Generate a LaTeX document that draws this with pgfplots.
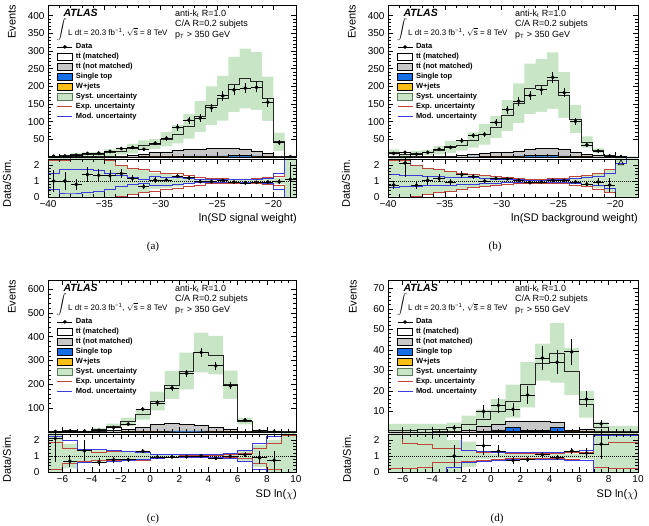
\documentclass[border=0pt]{standalone}
\usepackage{fontspec}
\setmainfont{Liberation Sans}
\newfontfamily\capfont{Liberation Serif}
\usepackage{pgfplots}
\usepackage{pgfplotstable}
\pgfplotsset{compat=1.18}

\definecolor{sysgreen}{RGB}{200,229,198}
\definecolor{sysedge}{RGB}{90,120,90}
\definecolor{nmgray}{RGB}{200,200,200}
\definecolor{stblue}{RGB}{20,110,230}
\definecolor{wjorange}{RGB}{250,190,20}
\definecolor{expred}{RGB}{190,70,60}
\definecolor{modblue}{RGB}{60,60,220}

% stacked templates: x = left bin edge; wj, st, nm = cumulative W+jets, +single top, +ttbar (not matched);
% mc = total prediction; su/sd = syst. band; eu/ed, mu/md, gu/gd = ratio bands (exp., mod., syst.)
\pgfplotstableread{
x    wj   st   nm    mc     su     sd     eu    ed    mu    md    gu    gd
-40  0    0    1     2      3.6    0.4    2.3   -0.3  1.5   0.5   2.6   -0.6
-39  0    0    1     3      5.4    0.6    2.3   -0.3  1.75  0.25  2.6   -0.6
-38  0    0    1     6.3    11.3   1.3    2.6   -0.6  1.75  0.25  2.6   -0.6
-37  0    0    1.5   7.1    12.8   1.4    2.6   -0.6  1.7   0.3   2.6   -0.6
-36  0    0    2     8.1    14.6   1.6    2.6   -0.6  1.65  0.35  2.6   -0.6
-35  0    0.2  2.2   11.9   21.4   2.4    2.3   -0.3  1.5   0.5   2.3   -0.3
-34  0    0.3  3.3   16.3   26.1   6.5    1.97  0.03  1.35  0.65  1.97  0.03
-33  0    0.5  4.5   23.3   37.3   9.3    1.82  0.18  1.2   0.8   1.82  0.18
-32  0.2  1.0  9.0   33.8   47.3   20.3   1.72  0.28  1.12  0.88  1.72  0.28
-31  0.3  1.3  13.3  36.8   51.5   22.1   1.62  0.38  1.3   0.7   1.5   0.5
-30  0.3  1.8  14.8  50     70     30     1.5   0.5   1.25  0.75  1.45  0.55
-29  0.5  2.5  19.5  64.6   90.4   38.8   1.45  0.55  1.2   0.8   1.35  0.65
-28  0.5  3.0  21.0  86.7   121.4  52     1.35  0.65  1.15  0.85  1.2   0.8
-27  0.5  3.5  21.5  114.6  158.1  71.1   1.25  0.75  1.1   0.9   1.1   0.9
-26  0.5  3.5  23.5  144.8  199.8  89.8   1.18  0.82  1.1   0.9   1.08  0.92
-25  0.5  3.5  24.5  166.3  229.5  103.1  1.14  0.86  1.1   0.9   1.08  0.92
-24  0.5  4.0  24.0  205    282.9  127.1  1.12  0.88  1.1   0.9   1.08  0.92
-23  0.5  4.5  21.5  222    306.4  137.6  1.12  0.88  1.08  0.92  1.08  0.92
-22  0.3  3.3  16.3  215    296.7  133.3  1.14  0.86  1.08  0.92  1.1   0.9
-21  0.3  2.3  10.3  165    227.7  102.3  1.2   0.8   1.15  0.85  1.15  0.85
-20  0.1  0.6  2.6   43     68.8   17.2   1.3   0.7   1.5   0.5   1.2   0.8
-19  0    0    0.1   0.9    2.7    0      2.6   -0.6  2.6   -0.6  2.6   -0.6
-18  0    0    0.1   0.9    2.7    0      2.6   -0.6  2.6   -0.6  2.6   -0.6
}\hA
\pgfplotstableread{
x      y    ey    r     re
-39.5  2    1.4   1.0   0.7
-38.5  3    1.7   1.0   0.57
-37.5  5    2.2   0.79  0.35
-36.5  10   3.2   1.41  0.45
-35.5  11   3.3   1.36  0.41
-34.5  16   4     1.34  0.34
-33.5  24   4.9   1.47  0.3
-32.5  27   5.2   1.16  0.22
-31.5  22   4.7   0.65  0.14
-30.5  39   6.2   1.06  0.17
-29.5  53   7.3   1.06  0.15
-28.5  84   9.2   1.3   0.14
-27.5  104  10.2  1.2   0.12
-26.5  110  10.5  0.96  0.09
-25.5  139  11.8  0.96  0.08
-24.5  173  13.2  1.04  0.08
-23.5  190  13.8  0.93  0.07
-22.5  195  14    0.88  0.06
-21.5  197  14    0.92  0.065
-20.5  155  12.4  0.94  0.075
-19.5  41   6.4   0.95  0.15
-18.5  1    1     1.11  1.11
}\pA

\pgfplotstableread{
x    wj   st   nm    mc     su     sd     eu    ed    mu    md    gu    gd
-40  0    0    1     13.3   21.3   5.3    2.3   -0.3  1.4   0.6   2.6   -0.6
-39  0    0    1     6.1    9.8    2.4    2.3   -0.3  1.35  0.65  2.6   -0.6
-38  0    0    1     11     17.6   4.4    1.97  0.03  1.35  0.65  1.97  0.03
-37  0    0    2     12.5   20     5      1.82  0.18  1.3   0.7   1.82  0.18
-36  0    0    2     19     30.4   7.6    1.72  0.28  1.28  0.72  1.72  0.28
-35  0    0    3     28.7   45.9   11.5   1.62  0.38  1.25  0.75  1.62  0.38
-34  0    0.3  5.3   32.6   47.3   17.9   1.5   0.5   1.22  0.78  1.5   0.5
-33  0.2  0.7  8.7   48     69.6   26.4   1.42  0.58  1.2   0.8   1.42  0.58
-32  0.3  1.3  11.3  64     92.8   35.2   1.35  0.65  1.15  0.85  1.35  0.65
-31  0.3  1.8  12.8  84.5   115.8  53.2   1.27  0.73  1.12  0.88  1.27  0.73
-30  0.5  2.5  14.5  117.5  161    74     1.2   0.8   1.1   0.9   1.15  0.85
-29  0.5  3.5  17.5  152    208.2  95.8   1.14  0.86  1.08  0.92  1.1   0.9
-28  0.5  4.5  22.5  193    264.4  121.6  1.12  0.88  1.06  0.94  1.08  0.92
-27  0.5  5.0  25.0  202    276.7  127.3  1.12  0.88  1.06  0.94  1.08  0.92
-26  0.5  5.0  25.0  216    295.9  136.1  1.14  0.86  1.08  0.92  1.08  0.92
-25  0.5  3.5  21.5  175    239.8  110.3  1.16  0.84  1.1   0.9   1.1   0.9
-24  0.3  2.3  14.3  107.4  147.1  67.7   1.27  0.73  1.15  0.85  1.2   0.8
-23  0.2  1.2  8.2   42.5   58.2   26.8   1.35  0.65  1.2   0.8   1.3   0.7
-22  0    0.5  4.5   18     24.7   11.3   1.5   0.5   1.3   0.7   1.45  0.55
-21  0    0.1  1.1   4      6.4    1.6    1.72  0.28  1.45  0.55  1.72  0.28
-20  0    0    0.1   0.3    0.9    0      2.1   -0.1  2.1   -0.1  2.6   -0.6
-19  0    0    0     0.1    0.3    0      2.6   -0.6  2.6   -0.6  2.6   -0.6
-18  0    0    0     0.1    0.3    0      2.6   -0.6  2.6   -0.6  2.6   -0.6
}\hB
\pgfplotstableread{
x      y    ey    r     re
-39.5  10   3.2   0.75  0.24
-38.5  13   3.6   2.13  0.85
-37.5  8    2.8   0.73  0.25
-36.5  13   3.6   1.04  0.29
-35.5  22   4.7   1.16  0.25
-34.5  27   5.2   0.94  0.18
-33.5  46   6.8   1.41  0.21
-32.5  61   7.8   1.27  0.16
-31.5  64   8     1.0   0.125
-30.5  98   9.9   1.16  0.12
-29.5  134  11.6  1.14  0.1
-28.5  158  12.6  1.04  0.083
-27.5  174  13.2  0.9   0.068
-26.5  190  13.8  0.94  0.068
-25.5  225  15    1.04  0.069
-24.5  182  13.5  1.04  0.077
-23.5  101  10    0.94  0.093
-22.5  34   5.8   0.8   0.14
-21.5  17   4.1   0.94  0.23
-20.5  3    1.7   0.75  0.43
-19.5  1    1     nan   0
}\pB

\pgfplotstableread{
x    wj   st   nm    mc     su     sd     eu    ed    mu    md     gu    gd
-7   0    0    0.3   0.95   1.5    0.4    1.84  0.16  2.24  -0.24  2.6   -0.6
-6   0    0    1     4.5    7.2    1.8    1.46  0.54  2.0   0.0    1.78  0.22
-5   0    0    1     3      4.8    1.2    1.36  0.64  1.4   0.6    1.4   0.6
-4   0    0.2  3.2   11.3   15.8   6.8    1.25  0.75  1.4   0.6    1.35  0.65
-3   0.2  0.7  7.7   24.7   34.6   14.8   1.3   0.7   1.35  0.65   1.3   0.7
-2   0.3  1.3  11.3  43     60.2   25.8   1.3   0.7   1.3   0.7    1.3   0.7
-1   0.5  2.5  20.5  74     96.2   51.8   1.25  0.75  1.2   0.8    1.22  0.78
0    0.8  3.8  31.8  130    169    91     1.12  0.88  1.12  0.88   1.1   0.9
1    1    5    35    197    256    138    1.08  0.92  1.1   0.9    1.07  0.93
2    1    5    33    256    332.8  179.2  1.06  0.94  1.08  0.92   1.06  0.94
3    1    5    27    334    417.5  250.5  1.06  0.94  1.08  0.92   1.06  0.94
4    0.8  3.8  18.8  323    403.8  242.3  1.06  0.94  1.1   0.9    1.07  0.93
5    0.5  2.5  10.5  198    257.4  138.6  1.1   0.9   1.15  0.85   1.1   0.9
6    0.2  0.7  3.7   46     59.8   32.2   1.15  0.85  1.36  0.64   1.3   0.7
7    0    0.1  1.1   5.6    8.4    2.8    1.46  0.54  1.82  0.18   1.7   0.3
8    0    0    0.3   2.7    5.4    0      1.82  0.18  2.2   -0.2   2.0   0.0
9    0    0    0     0.6    1.2    0      2.3   -0.3  2.6   -0.6   2.6   -0.6
10   0    0    0     0.6    1.2    0      2.3   -0.3  2.6   -0.6   2.6   -0.6
}\hC
\pgfplotstableread{
x     y    ey    r     re
-6.5  2    1.4   2.1   1.47
-5.5  3    1.7   0.67  0.38
-4.5  4    2     1.33  0.67
-3.5  7    2.6   0.62  0.23
-2.5  19   4.4   0.77  0.18
-1.5  33   5.7   0.77  0.13
-0.5  96   9.8   1.3   0.13
0.5   122  11    0.94  0.085
1.5   185  13.6  0.94  0.069
2.5   246  15.7  0.96  0.061
3.5   334  18.3  1.0   0.055
4.5   278  16.7  0.86  0.052
5.5   194  13.9  0.98  0.07
6.5   50   7.1   1.09  0.15
7.5   5    2.2   0.89  0.4
8.5   2    1.4   0.74  0.6
}\pC

\pgfplotstableread{
x    wj   st   nm    mc     su     sd     eu    ed    mu    md     gu    gd
-7   0    0    0     0.8    4      0      2.6   0.2   2.6   -0.6   2.6   -0.6
-6   0    0    0     0.8    4      0      1.8   0.2   2.6   -0.6   2.6   -0.6
-5   0    0    0     1.0    4      0      1.7   0.3   2.6   -0.6   2.6   -0.6
-4   0    0    0.3   1.2    4      0      1.45  0.6   2.35  0.0    2.6   -0.6
-3   0    0    0.6   2.0    4.5    0      1.45  0.6   2.35  0.3    2.0   0.0
-2   0    0    1     3.5    8      0      1.36  0.64  1.36  0.6    1.9   0.3
-1   0.5  0.5  3     6.1    11     2      1.25  0.75  1.3   0.65   1.2   0.8
0    0.5  1    4     10     16     4      1.22  0.78  1.25  0.75   1.15  0.85
1    0.3  2.3  5.3   15     23     7      1.15  0.85  1.25  0.8    1.12  0.88
2    0.3  0.8  5.3   23     34     12     1.15  0.85  1.2   0.8    1.12  0.88
3    0.3  0.8  5.3   33.3   43     25     1.15  0.85  1.25  0.8    1.12  0.88
4    0.3  2.3  4.8   38     53     24     1.15  0.85  1.25  0.8    1.12  0.88
5    0    0.2  0.7   29.5   41     18     1.22  0.78  1.3   0.75   1.15  0.85
6    0    0.2  1.2   13.4   20     7      1.25  0.75  1.35  0.72   1.2   0.8
7    0    0    0.3   2.3    5      0      1.75  0.3   2.3   -0.05  2.6   -0.6
8    0    0    0     0.5    3      0      1.85  0.2   2.3   -0.05  2.6   -0.6
9    0    0    0     0.3    3      0      1.85  0.2   2.3   -0.05  2.6   -0.6
10   0    0    0     0.3    3      0      1.85  0.2   2.3   -0.05  2.6   -0.6
}\hD
\pgfplotstableread{
x     y    ey    r     re
-2.5  2    1.4   1.0   0.7
-0.5  10   3.2   1.64  0.6
0.5   13   3.6   1.3   0.36
1.5   11   3.3   0.73  0.22
2.5   18   4.2   0.78  0.18
3.5   36   6     1.08  0.18
4.5   34   5.8   0.89  0.15
5.5   39   6.2   1.32  0.21
6.5   16   4     1.19  0.3
7.5   4    2     1.74  0.9
}\pD

\pgfplotsset{
  atlasbase/.style={
    scale only axis, enlargelimits=false, axis on top, clip mode=individual,
    tick align=inside, xtick pos=both, ytick pos=both,
    major tick length=5pt, minor tick length=2.6pt,
    axis line style={line width=0.8pt},
    every tick/.append style={line width=0.5pt, black},
    tick label style={font=\fontsize{10}{10}\selectfont},
    /pgf/number format/assume math mode=true,
    unbounded coords=discard,
  },
  mainpanel/.style={atlasbase, height=152pt, ymin=0, xticklabels={}, minor y tick num=4},
  ratiopanel/.style={atlasbase, height=38pt, ymin=0, ymax=2.38, ytick={0,1,2}, minor y tick num=4,
    yticklabel style={xshift=-5pt}},
  atlaslegend/.style={
    legend cell align=left,
    legend style={at={(rel axis cs:0.036,0.757)}, anchor=north west, draw=none, fill=none,
      inner sep=0pt, outer sep=0pt, column sep=2pt, row sep=0pt,
      font=\bfseries\fontsize{7.5}{7.5}\selectfont,
      nodes={inner xsep=1pt, inner ysep=0pt, text height=6.5pt, text depth=3.5pt}}},
  legdata/.style={legend image code/.code={%
    \draw[black, line width=0.8pt] (0pt,0pt) -- (15pt,0pt);
    \fill[black] (7.5pt,0pt) circle (1.6pt);}},
  legbox/.style={legend image code/.code={\draw[##1] (0pt,-3.2pt) rectangle (15pt,3.4pt);}},
  legexp/.style={legend image code/.code={\draw[draw=expred, line width=1pt] (0pt,0pt) -- (15pt,0pt);}},
  legmod/.style={legend image code/.code={\draw[draw=modblue, line width=1pt] (0pt,0pt) -- (15pt,0pt);}},
  datapts/.style={black, only marks, mark=*, mark size=1.7pt, forget plot,
    error bars/.cd, x dir=both, x fixed=0.5, y dir=both, y explicit,
    error mark=none, error bar style={line width=0.8pt, black}},
  histline/.style={const plot, forget plot},
}

\newcommand\atlaslegendentries{%
  \addlegendimage{legdata}\addlegendentry{Data}
  \addlegendimage{legbox, fill=white, draw=black, line width=0.6pt}\addlegendentry{t$\bar{\mbox{t}}$ (matched)}
  \addlegendimage{legbox, fill=nmgray, draw=black, line width=0.6pt}\addlegendentry{t$\bar{\mbox{t}}$ (not matched)}
  \addlegendimage{legbox, fill=stblue, draw=black, line width=0.6pt}\addlegendentry{Single top}
  \addlegendimage{legbox, fill=wjorange, draw=black, line width=0.6pt}\addlegendentry{W+jets}
  \addlegendimage{legbox, fill=sysgreen, draw=sysedge, line width=0.6pt}\addlegendentry{Syst. uncertainty}
  \addlegendimage{legexp, expred}\addlegendentry{Exp. uncertainty}
  \addlegendimage{legmod, modblue}\addlegendentry{Mod. uncertainty}
}

\newcommand\atlasinfo[1]{%
  \node[anchor=west, font=\bfseries\itshape\fontsize{10.5}{10.5}\selectfont]
    at ([xshift=12pt,yshift=-7.5pt]rel axis cs:0,1) {ATLAS};
  \node[font=\fontsize{9.5}{9.5}\selectfont, inner sep=0pt]
    at ([xshift=14pt,yshift=-25pt]rel axis cs:0,1) {$\displaystyle\int$};
  \node[anchor=west, font=\fontsize{8}{8}\selectfont, inner sep=0pt]
    at ([xshift=20pt,yshift=-27.3pt]rel axis cs:0,1)
    {L dt = 20.3 fb\textsuperscript{−1}, $\sqrt{\mbox{s}}$ = 8 TeV};
  \node[anchor=west, font=\fontsize{9}{9}\selectfont, inner sep=0pt]
    at ([xshift=127pt,yshift=-8.3pt]rel axis cs:0,1) {anti-k\textsubscript{t} R=1.0};
  \node[anchor=west, font=\fontsize{9}{9}\selectfont, inner sep=0pt]
    at ([xshift=127pt,yshift=-19pt]rel axis cs:0,1) {C/A R=0.2 subjets};
  \node[anchor=west, font=\fontsize{9}{9}\selectfont, inner sep=0pt]
    at ([xshift=127pt,yshift=-30pt]rel axis cs:0,1) {p\textsubscript{T} {>} #1 GeV};
}

% main panel contents: band, stacked templates, total outline, data
\newcommand\mainstack[2]{%
  \addplot[histline, fill=sysgreen, draw=none] table[x=x,y=su]{#1} \closedcycle;
  \addplot[histline, fill=white, draw=none] table[x=x,y=sd]{#1} \closedcycle;
  \addplot[histline, fill=nmgray, draw=black, line width=0.5pt] table[x=x,y=nm]{#1} \closedcycle;
  \addplot[histline, fill=stblue, draw=black, line width=0.4pt] table[x=x,y=st]{#1} \closedcycle;
  \addplot[histline, fill=wjorange, draw=black, line width=0.4pt] table[x=x,y=wj]{#1} \closedcycle;
  \addplot[histline, draw=black!85, line width=0.9pt] table[x=x,y=mc]{#1};
  \addplot[datapts] table[x=x,y=y,y error=ey]{#2};
}
% ratio panel contents
\newcommand\ratiostack[4]{%
  \addplot[histline, fill=sysgreen, draw=none] table[x=x,y=gu]{#1} \closedcycle;
  \addplot[histline, fill=white, draw=none] table[x=x,y=gd]{#1} \closedcycle;
  \addplot[histline, expred, line width=0.8pt] table[x=x,y=eu]{#1};
  \addplot[histline, expred, line width=0.8pt] table[x=x,y=ed]{#1};
  \addplot[histline, modblue, line width=0.8pt] table[x=x,y=mu]{#1};
  \addplot[histline, modblue, line width=0.8pt] table[x=x,y=md]{#1};
  \addplot[black, densely dotted, line width=1pt, forget plot] coordinates {(#3,1) (#4,1)};
  \addplot[datapts] table[x=x,y=r,y error=re]{#2};
}

\begin{document}
\begin{tikzpicture}
\useasboundingbox (0,0) rectangle (649pt,526pt);

% ---------- (a) ----------
\begin{axis}[mainpanel, atlaslegend, at={(48pt,369pt)}, anchor=south west, width=248pt,
  xmin=-40, xmax=-18, ymax=430, xtick={-40,-35,...,-20}, minor x tick num=4,
  ytick={50,100,...,400}]
  \atlaslegendentries
  \mainstack{\hA}{\pA}
  \atlasinfo{350}
\end{axis}
\begin{axis}[ratiopanel, at={(48pt,329pt)}, anchor=south west, width=248pt,
  xmin=-40, xmax=-18, xtick={-40,-35,...,-20}, xticklabels={−40,−35,−30,−25,−20}, minor x tick num=4]
  \ratiostack{\hA}{\pA}{-40}{-18}
\end{axis}

% ---------- (b) ----------
\begin{axis}[mainpanel, atlaslegend, at={(388pt,369pt)}, anchor=south west, width=250pt,
  xmin=-40, xmax=-18, ymax=430, xtick={-40,-35,...,-20}, minor x tick num=4,
  ytick={50,100,...,400}]
  \atlaslegendentries
  \mainstack{\hB}{\pB}
  \atlasinfo{350}
\end{axis}
\begin{axis}[ratiopanel, at={(388pt,329pt)}, anchor=south west, width=250pt,
  xmin=-40, xmax=-18, xtick={-40,-35,...,-20}, xticklabels={−40,−35,−30,−25,−20}, minor x tick num=4]
  \ratiostack{\hB}{\pB}{-40}{-18}
  \addplot[black, only marks, mark=triangle, mark size=3.2pt, line width=0.6pt, forget plot]
    coordinates {(-19.5,2.12)};
\end{axis}

% ---------- (c) ----------
\begin{axis}[mainpanel, atlaslegend, at={(48pt,94pt)}, anchor=south west, width=248pt,
  xmin=-7, xmax=10, ymax=638, xtick={-6,-4,...,10}, minor x tick num=3,
  ytick={100,200,...,600}]
  \atlaslegendentries
  \mainstack{\hC}{\pC}
  \atlasinfo{350}
\end{axis}
\begin{axis}[ratiopanel, at={(48pt,54pt)}, anchor=south west, width=248pt,
  xmin=-7, xmax=10, xtick={-6,-4,...,10}, xticklabels={−6,−4,−2,0,2,4,6,8,10}, minor x tick num=3]
  \ratiostack{\hC}{\pC}{-7}{10}
\end{axis}

% ---------- (d) ----------
\begin{axis}[mainpanel, atlaslegend, at={(388pt,94pt)}, anchor=south west, width=250pt,
  xmin=-7, xmax=10, ymax=74, xtick={-6,-4,...,10}, minor x tick num=3,
  ytick={10,20,...,70}]
  \atlaslegendentries
  \mainstack{\hD}{\pD}
  \atlasinfo{550}
\end{axis}
\begin{axis}[ratiopanel, at={(388pt,54pt)}, anchor=south west, width=250pt,
  xmin=-7, xmax=10, xtick={-6,-4,...,10}, xticklabels={−6,−4,−2,0,2,4,6,8,10}, minor x tick num=3]
  \ratiostack{\hD}{\pD}{-7}{10}
\end{axis}

% axis titles
\begin{scope}[every node/.style={font=\fontsize{11}{11}\selectfont, inner sep=0pt}]
  \node[rotate=90, anchor=east] at (12pt,521pt) {Events};
  \node[rotate=90, anchor=east] at (7pt,367pt) {Data/Sim.};
  \node[rotate=90, anchor=east] at (352pt,521pt) {Events};
  \node[rotate=90, anchor=east] at (346pt,367pt) {Data/Sim.};
  \node[rotate=90, anchor=east] at (12pt,246pt) {Events};
  \node[rotate=90, anchor=east] at (7pt,92pt) {Data/Sim.};
  \node[rotate=90, anchor=east] at (353pt,246pt) {Events};
  \node[rotate=90, anchor=east] at (347pt,92pt) {Data/Sim.};
  \node[anchor=east] at (297pt,307pt) {ln(SD signal weight)};
  \node[anchor=east] at (638pt,307pt) {ln(SD background weight)};
  \node[anchor=east] at (297pt,31pt) {SD ln($\chi$)};
  \node[anchor=east] at (638pt,31pt) {SD ln($\chi$)};
\end{scope}
\begin{scope}[every node/.style={font=\capfont\fontsize{11}{11}\selectfont, inner sep=0pt}]
  \node at (153pt,279pt) {(a)};
  \node at (495pt,279pt) {(b)};
  \node at (153pt,7pt) {(c)};
  \node at (497pt,7pt) {(d)};
\end{scope}
\end{tikzpicture}
\end{document}
